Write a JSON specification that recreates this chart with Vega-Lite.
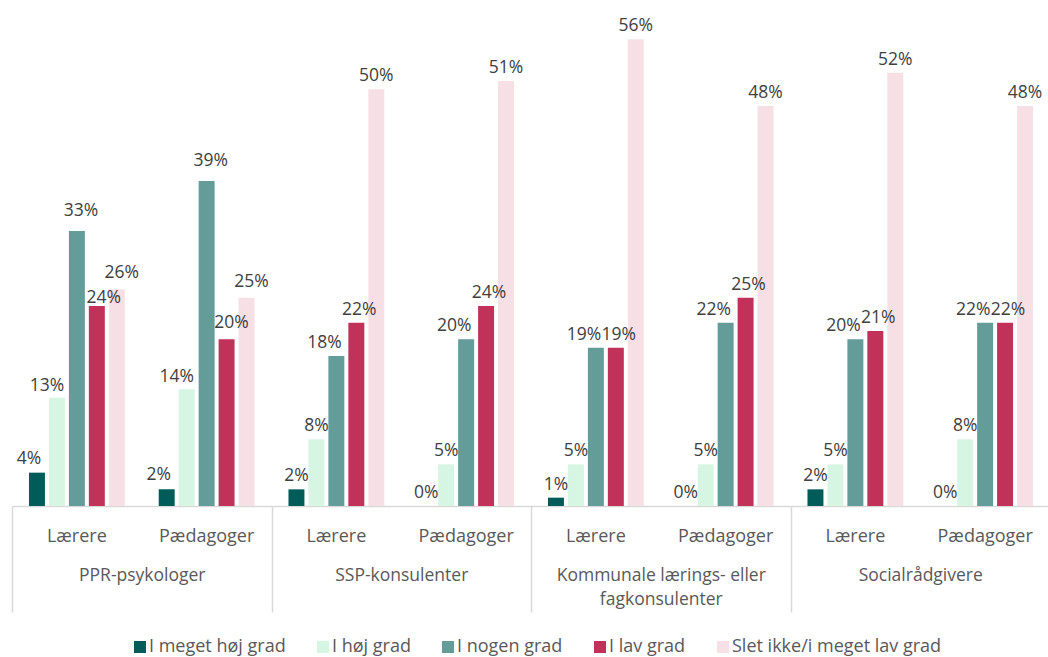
{
  "$schema": "https://vega.github.io/schema/vega-lite/v6.json",
  "width": 1038,
  "height": 500,
  "autosize": {"type": "none"},
  "padding": {"left": 12, "top": 6, "right": 0, "bottom": 151},
  "config": {"view": {"stroke": null}, "font": "Open Sans", "axis": {"grid": false}, "text": {"baseline": "alphabetic", "align": "center", "fontSize": 17.5, "font": "Open Sans", "color": "#404040"}},
  "data": {
    "values": [
      {"group": "PPR-psykologer", "sub": "Lærere", "cell": "PPR-psykologer|Lærere", "series": "I meget høj grad", "value": 0.04},
      {"group": "PPR-psykologer", "sub": "Lærere", "cell": "PPR-psykologer|Lærere", "series": "I høj grad", "value": 0.13},
      {"group": "PPR-psykologer", "sub": "Lærere", "cell": "PPR-psykologer|Lærere", "series": "I nogen grad", "value": 0.33},
      {"group": "PPR-psykologer", "sub": "Lærere", "cell": "PPR-psykologer|Lærere", "series": "I lav grad", "value": 0.24},
      {"group": "PPR-psykologer", "sub": "Lærere", "cell": "PPR-psykologer|Lærere", "series": "Slet ikke/i meget lav grad", "value": 0.26},
      {"group": "PPR-psykologer", "sub": "Pædagoger", "cell": "PPR-psykologer|Pædagoger", "series": "I meget høj grad", "value": 0.02},
      {"group": "PPR-psykologer", "sub": "Pædagoger", "cell": "PPR-psykologer|Pædagoger", "series": "I høj grad", "value": 0.14},
      {"group": "PPR-psykologer", "sub": "Pædagoger", "cell": "PPR-psykologer|Pædagoger", "series": "I nogen grad", "value": 0.39},
      {"group": "PPR-psykologer", "sub": "Pædagoger", "cell": "PPR-psykologer|Pædagoger", "series": "I lav grad", "value": 0.20},
      {"group": "PPR-psykologer", "sub": "Pædagoger", "cell": "PPR-psykologer|Pædagoger", "series": "Slet ikke/i meget lav grad", "value": 0.25},
      {"group": "SSP-konsulenter", "sub": "Lærere", "cell": "SSP-konsulenter|Lærere", "series": "I meget høj grad", "value": 0.02},
      {"group": "SSP-konsulenter", "sub": "Lærere", "cell": "SSP-konsulenter|Lærere", "series": "I høj grad", "value": 0.08},
      {"group": "SSP-konsulenter", "sub": "Lærere", "cell": "SSP-konsulenter|Lærere", "series": "I nogen grad", "value": 0.18},
      {"group": "SSP-konsulenter", "sub": "Lærere", "cell": "SSP-konsulenter|Lærere", "series": "I lav grad", "value": 0.22},
      {"group": "SSP-konsulenter", "sub": "Lærere", "cell": "SSP-konsulenter|Lærere", "series": "Slet ikke/i meget lav grad", "value": 0.50},
      {"group": "SSP-konsulenter", "sub": "Pædagoger", "cell": "SSP-konsulenter|Pædagoger", "series": "I meget høj grad", "value": 0.00},
      {"group": "SSP-konsulenter", "sub": "Pædagoger", "cell": "SSP-konsulenter|Pædagoger", "series": "I høj grad", "value": 0.05},
      {"group": "SSP-konsulenter", "sub": "Pædagoger", "cell": "SSP-konsulenter|Pædagoger", "series": "I nogen grad", "value": 0.20},
      {"group": "SSP-konsulenter", "sub": "Pædagoger", "cell": "SSP-konsulenter|Pædagoger", "series": "I lav grad", "value": 0.24},
      {"group": "SSP-konsulenter", "sub": "Pædagoger", "cell": "SSP-konsulenter|Pædagoger", "series": "Slet ikke/i meget lav grad", "value": 0.51},
      {"group": "Kommunale lærings- eller fagkonsulenter", "sub": "Lærere", "cell": "Kommunale lærings- eller fagkonsulenter|Lærere", "series": "I meget høj grad", "value": 0.01},
      {"group": "Kommunale lærings- eller fagkonsulenter", "sub": "Lærere", "cell": "Kommunale lærings- eller fagkonsulenter|Lærere", "series": "I høj grad", "value": 0.05},
      {"group": "Kommunale lærings- eller fagkonsulenter", "sub": "Lærere", "cell": "Kommunale lærings- eller fagkonsulenter|Lærere", "series": "I nogen grad", "value": 0.19},
      {"group": "Kommunale lærings- eller fagkonsulenter", "sub": "Lærere", "cell": "Kommunale lærings- eller fagkonsulenter|Lærere", "series": "I lav grad", "value": 0.19},
      {"group": "Kommunale lærings- eller fagkonsulenter", "sub": "Lærere", "cell": "Kommunale lærings- eller fagkonsulenter|Lærere", "series": "Slet ikke/i meget lav grad", "value": 0.56},
      {"group": "Kommunale lærings- eller fagkonsulenter", "sub": "Pædagoger", "cell": "Kommunale lærings- eller fagkonsulenter|Pædagoger", "series": "I meget høj grad", "value": 0.00},
      {"group": "Kommunale lærings- eller fagkonsulenter", "sub": "Pædagoger", "cell": "Kommunale lærings- eller fagkonsulenter|Pædagoger", "series": "I høj grad", "value": 0.05},
      {"group": "Kommunale lærings- eller fagkonsulenter", "sub": "Pædagoger", "cell": "Kommunale lærings- eller fagkonsulenter|Pædagoger", "series": "I nogen grad", "value": 0.22},
      {"group": "Kommunale lærings- eller fagkonsulenter", "sub": "Pædagoger", "cell": "Kommunale lærings- eller fagkonsulenter|Pædagoger", "series": "I lav grad", "value": 0.25},
      {"group": "Kommunale lærings- eller fagkonsulenter", "sub": "Pædagoger", "cell": "Kommunale lærings- eller fagkonsulenter|Pædagoger", "series": "Slet ikke/i meget lav grad", "value": 0.48},
      {"group": "Socialrådgivere", "sub": "Lærere", "cell": "Socialrådgivere|Lærere", "series": "I meget høj grad", "value": 0.02},
      {"group": "Socialrådgivere", "sub": "Lærere", "cell": "Socialrådgivere|Lærere", "series": "I høj grad", "value": 0.05},
      {"group": "Socialrådgivere", "sub": "Lærere", "cell": "Socialrådgivere|Lærere", "series": "I nogen grad", "value": 0.20},
      {"group": "Socialrådgivere", "sub": "Lærere", "cell": "Socialrådgivere|Lærere", "series": "I lav grad", "value": 0.21},
      {"group": "Socialrådgivere", "sub": "Lærere", "cell": "Socialrådgivere|Lærere", "series": "Slet ikke/i meget lav grad", "value": 0.52},
      {"group": "Socialrådgivere", "sub": "Pædagoger", "cell": "Socialrådgivere|Pædagoger", "series": "I meget høj grad", "value": 0.00},
      {"group": "Socialrådgivere", "sub": "Pædagoger", "cell": "Socialrådgivere|Pædagoger", "series": "I høj grad", "value": 0.08},
      {"group": "Socialrådgivere", "sub": "Pædagoger", "cell": "Socialrådgivere|Pædagoger", "series": "I nogen grad", "value": 0.22},
      {"group": "Socialrådgivere", "sub": "Pædagoger", "cell": "Socialrådgivere|Pædagoger", "series": "I lav grad", "value": 0.22},
      {"group": "Socialrådgivere", "sub": "Pædagoger", "cell": "Socialrådgivere|Pædagoger", "series": "Slet ikke/i meget lav grad", "value": 0.48}
    ]
  },
  "layer": [
    {
      "encoding": {
        "x": {
          "field": "cell", "type": "nominal", "title": null,
          "scale": {"domain": ["PPR-psykologer|Lærere", "PPR-psykologer|Pædagoger", "SSP-konsulenter|Lærere", "SSP-konsulenter|Pædagoger", "Kommunale lærings- eller fagkonsulenter|Lærere", "Kommunale lærings- eller fagkonsulenter|Pædagoger", "Socialrådgivere|Lærere", "Socialrådgivere|Pædagoger"], "paddingInner": 0, "paddingOuter": 0},
          "axis": {"orient": "bottom", "domain": true, "domainColor": "#D9D9D9", "domainWidth": 1.5, "ticks": false, "tickSize": 0, "labelPadding": 21, "labelBaseline": "top", "labelAngle": 0, "labelFontSize": 18, "labelFont": "Open Sans", "labelColor": "#595959", "labelOverlap": false, "labelBound": false, "labelLimit": 0, "labelExpr": "split(datum.value, '|')[1]"}
        },
        "xOffset": {
          "field": "series", "type": "nominal",
          "scale": {"domain": ["I meget høj grad", "I høj grad", "I nogen grad", "I lav grad", "Slet ikke/i meget lav grad"], "paddingInner": 0.2, "paddingOuter": 0.85}
        },
        "y": {"field": "value", "type": "quantitative", "scale": {"domain": [0, 0.6]}, "axis": null}
      },
      "layer": [
        {
          "mark": {"type": "bar"},
          "encoding": {
            "color": {
              "field": "series", "type": "nominal",
              "scale": {"domain": ["I meget høj grad", "I høj grad", "I nogen grad", "I lav grad", "Slet ikke/i meget lav grad"], "range": ["#005C58", "#D6F5E3", "#639C99", "#C0325A", "#F6DFE5"]},
              "legend": {"orient": "none", "direction": "horizontal", "legendX": 119, "legendY": 632, "title": null, "symbolType": "square", "symbolSize": 144, "symbolStrokeWidth": 0, "labelFontSize": 18, "labelFont": "Open Sans", "labelColor": "#595959", "labelLimit": 0, "columnPadding": 28, "labelOffset": 0, "padding": 0}
            }
          }
        },
        {
          "transform": [{"filter": "datum.group == 'PPR-psykologer' && datum.series == 'I meget høj grad'"}],
          "mark": {"type": "text", "dx": -8, "dy": -9},
          "encoding": {"text": {"field": "value", "type": "quantitative", "format": ".0%"}}
        },
        {
          "transform": [{"filter": "datum.group == 'PPR-psykologer' && datum.series == 'I høj grad'"}],
          "mark": {"type": "text", "dx": -10, "dy": -7},
          "encoding": {"text": {"field": "value", "type": "quantitative", "format": ".0%"}}
        },
        {
          "transform": [{"filter": "datum.group == 'PPR-psykologer' && datum.series == 'I nogen grad'"}],
          "mark": {"type": "text", "dx": 4, "dy": -15},
          "encoding": {"text": {"field": "value", "type": "quantitative", "format": ".0%"}}
        },
        {
          "transform": [{"filter": "datum.cell == 'PPR-psykologer|Lærere' && datum.series == 'I lav grad'"}],
          "mark": {"type": "text", "dx": 7, "dy": -3},
          "encoding": {"text": {"field": "value", "type": "quantitative", "format": ".0%"}}
        },
        {
          "transform": [{"filter": "(datum.cell == 'PPR-psykologer|Pædagoger' && datum.series == 'I lav grad') || (datum.group == 'PPR-psykologer' && datum.series == 'Slet ikke/i meget lav grad')"}],
          "mark": {"type": "text", "dx": 5, "dy": -11},
          "encoding": {"text": {"field": "value", "type": "quantitative", "format": ".0%"}}
        },
        {
          "transform": [{"filter": "datum.group != 'PPR-psykologer' && datum.series == 'I nogen grad'"}],
          "mark": {"type": "text", "dx": -12, "dy": -8},
          "encoding": {"text": {"field": "value", "type": "quantitative", "format": ".0%"}}
        },
        {
          "transform": [{"filter": "datum.group != 'PPR-psykologer' && datum.series == 'I lav grad'"}],
          "mark": {"type": "text", "dx": 3, "dy": -8},
          "encoding": {"text": {"field": "value", "type": "quantitative", "format": ".0%"}}
        },
        {
          "transform": [{"filter": "datum.group != 'PPR-psykologer' && datum.series != 'I nogen grad' && datum.series != 'I lav grad'"}],
          "mark": {"type": "text", "dy": -8},
          "encoding": {"text": {"field": "value", "type": "quantitative", "format": ".0%"}}
        }
      ]
    },
    {
      "mark": {"type": "point", "opacity": 0},
      "encoding": {
        "x": {
          "field": "group", "type": "nominal", "title": null,
          "scale": {"domain": ["PPR-psykologer", "SSP-konsulenter", "Kommunale lærings- eller fagkonsulenter", "Socialrådgivere"], "paddingInner": 0, "paddingOuter": 0},
          "axis": {"orient": "bottom", "domain": false, "ticks": true, "tickBand": "extent", "tickSize": 106, "tickColor": "#D9D9D9", "tickWidth": 1.5, "labelPadding": -46, "labelBaseline": "top", "labelAngle": 0, "labelFontSize": 17.5, "labelFont": "Open Sans", "labelColor": "#595959", "labelLineHeight": 24, "labelOverlap": false, "labelBound": false, "labelLimit": 0, "labelExpr": "datum.value == 'Kommunale lærings- eller fagkonsulenter' ? ['Kommunale lærings- eller', 'fagkonsulenter'] : datum.value"}
        }
      }
    }
  ],
  "resolve": {"scale": {"x": "independent"}, "axis": {"x": "independent"}}
}
